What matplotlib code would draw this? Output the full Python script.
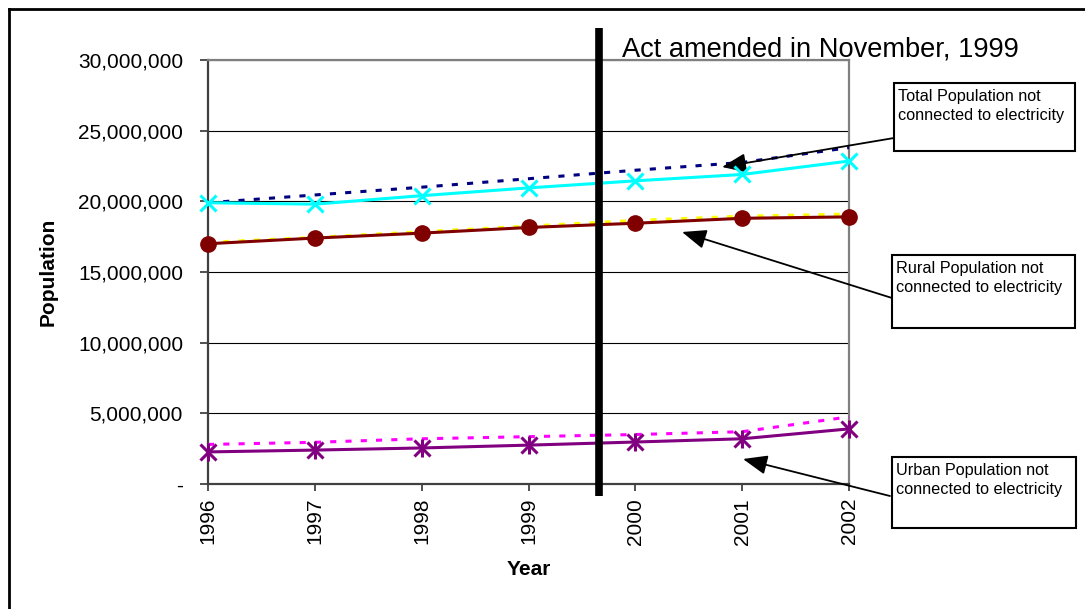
import matplotlib.pyplot as plt
from matplotlib.lines import Line2D
from matplotlib.patches import Rectangle
from matplotlib.ticker import FuncFormatter

plt.rcParams['font.family'] = ['Liberation Sans', 'DejaVu Sans']

years = [1996, 1997, 1998, 1999, 2000, 2001, 2002]
total_trend = [19.9e6, 20.45e6, 21.0e6, 21.6e6, 22.2e6, 22.75e6, 23.8e6]
total_pop = [19.9e6, 19.8e6, 20.4e6, 20.95e6, 21.45e6, 21.9e6, 22.85e6]
rural_trend = [17.1e6, 17.45e6, 17.85e6, 18.25e6, 18.65e6, 18.95e6, 19.1e6]
rural_pop = [17.0e6, 17.4e6, 17.75e6, 18.15e6, 18.45e6, 18.8e6, 18.9e6]
urban_trend = [2.8e6, 2.95e6, 3.2e6, 3.35e6, 3.5e6, 3.7e6, 4.75e6]
urban_pop = [2.27e6, 2.4e6, 2.55e6, 2.75e6, 2.97e6, 3.2e6, 3.9e6]
act_x = 1999.66
yticks = [0, 5e6, 10e6, 15e6, 20e6, 25e6, 30e6]

box_labels = ['Total Population not\nconnected to electricity',
              'Rural Population not\nconnected to electricity',
              'Urban Population not\nconnected to electricity']

W, H = 1085, 609


def px(x, y):
    # pixel position measured from top-left -> figure fraction
    return x / W, 1 - y / H


fig = plt.figure(figsize=(W / 100, H / 100), dpi=100)
ax = fig.add_axes([208 / W, 1 - 484 / H, 641 / W, 424 / H])

dots = (2.0, 3.0)
lw = 2.2
ax.plot(years, total_trend, color='#000080', lw=lw, dashes=dots, clip_on=False, zorder=3)
ax.plot(years, total_pop, color='#00FFFF', lw=lw, marker='x', ms=12, mew=2.2,
        clip_on=False, zorder=4)
ax.plot(years, rural_trend, color='#FFFF00', lw=lw, dashes=dots, clip_on=False, zorder=3)
ax.plot(years, rural_pop, color='#800000', lw=lw, marker='o', ms=11,
        clip_on=False, zorder=4)
ax.plot(years, urban_trend, color='#FF00FF', lw=lw, dashes=dots, clip_on=False, zorder=3)
ax.plot(years, urban_pop, color='#800080', lw=lw, marker='x', ms=11, mew=2.2,
        clip_on=False, zorder=4)
ax.plot(years, urban_pop, color='#800080', lw=0, marker='|', ms=13, mew=2.2,
        clip_on=False, zorder=4)

ax.axvline(act_x, ymin=-0.028, ymax=1.075, color='black', lw=5.5,
           solid_capstyle='butt', clip_on=False, zorder=5)

ax.set_xlim(1996, 2002)
ax.set_ylim(0, 30e6)
ax.set_xticks(years)
ax.set_xticklabels([str(y) for y in years], rotation=90)
ax.set_yticks(yticks)
ax.yaxis.set_major_formatter(FuncFormatter(lambda v, p: '-' if v == 0 else f'{v:,.0f}'))
ax.tick_params(axis='y', labelsize=15, length=6, width=1.2, pad=12, color='#333333')
ax.tick_params(axis='x', labelsize=15, length=5, width=1.2, pad=5, color='#333333')

ax.grid(axis='y', color='black', lw=0.8)
ax.set_axisbelow(True)
for side in ['left', 'bottom']:
    ax.spines[side].set_color('#404040')
    ax.spines[side].set_linewidth(1.6)
for side in ['top', 'right']:
    ax.spines[side].set_color('#808080')
    ax.spines[side].set_linewidth(1.6)

ax.set_xlabel('Year', fontsize=15, fontweight='bold')
ax.set_ylabel('Population', fontsize=15, fontweight='bold')
ax.xaxis.set_label_coords(0.5, -0.18)
ax.yaxis.set_label_coords(-0.234, 0.5)

# outer chart frame
fx, fy = px(9, 9)
fig.add_artist(Line2D([fx, fx], [0, fy], color='black', lw=2))
fig.add_artist(Line2D([fx, 1], [fy, fy], color='black', lw=2))

tx, ty = px(622, 57)
fig.text(tx, ty, 'Act amended in November, 1999', fontsize=19.6, va='baseline')

# label boxes and arrows
boxes = [(894, 83, 1075, 151), (892, 255, 1075, 328), (892, 457, 1076, 528)]
arrows = [((894, 138), (722, 167)), ((892, 298), (682, 232)), ((890, 496), (743, 459))]
for (x0, y0, x1, y1), label in zip(boxes, box_labels):
    bx, by = px(x0, y1)
    fig.add_artist(Rectangle((bx, by), (x1 - x0) / W, (y1 - y0) / H,
                             transform=fig.transFigure, fill=True, facecolor='white',
                             edgecolor='black', lw=1.5))
    lx, ly = px(x0 + 4, y0 + 6)
    fig.text(lx, ly, label, fontsize=11.7, va='top', linespacing=1.3)

for tail, tip in arrows:
    ax.annotate('', xy=px(*tip), xytext=px(*tail), xycoords='figure fraction',
                textcoords='figure fraction', annotation_clip=False,
                arrowprops=dict(arrowstyle='-|>,head_length=0.55,head_width=0.22',
                                mutation_scale=27, color='black', lw=1.3,
                                shrinkA=0, shrinkB=0))

fig.savefig('out.png', dpi=100)
